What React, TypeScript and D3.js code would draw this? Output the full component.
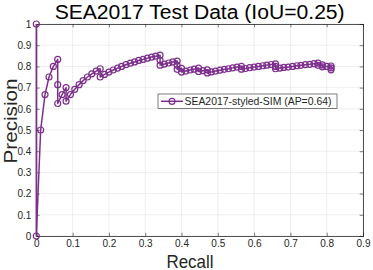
import * as d3 from 'd3';
import React, { useEffect, useRef } from 'react';

// PR curve
const recall = [
  0, 0, 0.012, 0.024, 0.035, 0.047, 0.059, 0.059, 0.059, 0.071, 0.082, 0.082, 0.094, 0.106,
  0.118, 0.129, 0.141, 0.153, 0.165, 0.176, 0.176, 0.188, 0.2, 0.212, 0.224, 0.235, 0.247,
  0.259, 0.271, 0.282, 0.294, 0.306, 0.318, 0.329, 0.341, 0.341, 0.341, 0.353, 0.365, 0.376,
  0.388, 0.388, 0.388, 0.4, 0.4, 0.412, 0.424, 0.435, 0.447, 0.447, 0.459, 0.471, 0.471,
  0.482, 0.494, 0.506, 0.518, 0.529, 0.541, 0.553, 0.565, 0.565, 0.576, 0.588, 0.6, 0.612,
  0.624, 0.635, 0.647, 0.659, 0.659, 0.659, 0.671, 0.682, 0.694, 0.706, 0.718, 0.729, 0.741,
  0.753, 0.765, 0.776, 0.776, 0.788, 0.788, 0.8, 0.812, 0.812, 0.812,
];
const precision = [
  1, 0, 0.5, 0.667, 0.75, 0.8, 0.833, 0.714, 0.625, 0.667, 0.7, 0.636, 0.667, 0.692,
  0.714, 0.733, 0.75, 0.765, 0.778, 0.789, 0.75, 0.762, 0.773, 0.783, 0.792, 0.8, 0.808,
  0.815, 0.821, 0.828, 0.833, 0.839, 0.844, 0.848, 0.853, 0.829, 0.806, 0.811, 0.816, 0.821,
  0.825, 0.805, 0.786, 0.791, 0.773, 0.778, 0.783, 0.787, 0.792, 0.776, 0.78, 0.784, 0.769,
  0.774, 0.778, 0.782, 0.786, 0.789, 0.793, 0.797, 0.8, 0.787, 0.79, 0.794, 0.797, 0.8,
  0.803, 0.806, 0.809, 0.812, 0.8, 0.789, 0.792, 0.795, 0.797, 0.8, 0.803, 0.805, 0.808,
  0.81, 0.813, 0.815, 0.805, 0.807, 0.798, 0.8, 0.802, 0.793, 0.784,
];
const xTicks = [0, 0.1, 0.2, 0.3, 0.4, 0.5, 0.6, 0.7, 0.8, 0.9];
const yTicks = [0, 0.1, 0.2, 0.3, 0.4, 0.5, 0.6, 0.7, 0.8, 0.9, 1];
const seriesName = 'SEA2017-styled-SIM (AP=0.64)';
const title = 'SEA2017 Test Data (IoU=0.25)';

const W = 373, H = 270;
const purple = '#7E2F8E';
const ink = '#262626';
const font = 'Liberation Sans, Arial, Helvetica, sans-serif';

const App = () => {
  const ref = useRef<SVGSVGElement>(null);

  useEffect(() => {
    if (!ref.current) return;
    const svg = d3.select(ref.current);
    svg.selectAll('*').remove();

    const left = 36.3, right = 363, top = 24, bottom = 236;
    const x = d3.scaleLinear().domain([0, 0.9]).range([left, right]);
    const y = d3.scaleLinear().domain([0, 1]).range([bottom, top]);

    svg.append('rect').attr('width', W).attr('height', H).attr('fill', '#fff');

    // grid
    const grid = svg.append('g').attr('stroke', '#e3e3e3').attr('stroke-width', 0.6);
    grid.selectAll('.gx').data(xTicks).join('line')
      .attr('x1', d => x(d)).attr('x2', d => x(d)).attr('y1', top).attr('y2', bottom);
    grid.selectAll('.gy').data(yTicks).join('line')
      .attr('y1', d => y(d)).attr('y2', d => y(d)).attr('x1', left).attr('x2', right);

    // axes with inward ticks on all four sides
    const tl = 3.3;
    svg.append('g').attr('transform', `translate(0,${bottom})`)
      .call(d3.axisBottom(x).tickValues(xTicks).tickSize(-tl).tickPadding(4).tickFormat(d3.format('~g')));
    svg.append('g').attr('transform', `translate(0,${top})`)
      .call(d3.axisTop(x).tickValues(xTicks).tickSize(-tl).tickFormat(() => ''));
    svg.append('g').attr('transform', `translate(${left},0)`)
      .call(d3.axisLeft(y).tickValues(yTicks).tickSize(-tl).tickPadding(5).tickFormat(d3.format('~g')));
    svg.append('g').attr('transform', `translate(${right},0)`)
      .call(d3.axisRight(y).tickValues(yTicks).tickSize(-tl).tickFormat(() => ''));
    svg.selectAll('.domain').attr('stroke', ink).attr('stroke-width', 0.8);
    svg.selectAll('.tick line').attr('stroke', ink).attr('stroke-width', 0.6);
    svg.selectAll('.tick text').attr('fill', ink).attr('font-family', font).attr('font-size', 10);

    // curve
    const pts = recall.map((r, i) => [r, precision[i]] as [number, number]);
    svg.append('path')
      .attr('d', d3.line().x(d => x(d[0])).y(d => y(d[1]))(pts))
      .attr('fill', 'none').attr('stroke', purple).attr('stroke-width', 1.5)
      .attr('stroke-linejoin', 'round');
    svg.append('g').selectAll('circle').data(pts).join('circle')
      .attr('cx', d => x(d[0])).attr('cy', d => y(d[1])).attr('r', 3)
      .attr('fill', 'none').attr('stroke', purple).attr('stroke-width', 1.2);

    // legend
    const lg = svg.append('g');
    lg.append('rect').attr('x', 158).attr('y', 94).attr('width', 179).attr('height', 14.5)
      .attr('fill', '#fff').attr('stroke', ink).attr('stroke-width', 0.6);
    lg.append('line').attr('x1', 161).attr('x2', 183).attr('y1', 101.3).attr('y2', 101.3)
      .attr('stroke', purple).attr('stroke-width', 1.5);
    lg.append('circle').attr('cx', 172).attr('cy', 101.3).attr('r', 3)
      .attr('fill', 'none').attr('stroke', purple).attr('stroke-width', 1.2);
    lg.append('text').attr('x', 184.5).attr('y', 105).attr('font-family', font).attr('font-size', 10.3)
      .attr('textLength', 147).attr('lengthAdjust', 'spacingAndGlyphs')
      .attr('fill', ink).text(seriesName);

    // titles
    svg.append('text').attr('x', (left + right) / 2).attr('y', 19).attr('text-anchor', 'middle')
      .attr('font-family', font).attr('font-size', 20).attr('fill', '#000')
      .attr('textLength', 290).attr('lengthAdjust', 'spacingAndGlyphs').text(title);
    svg.append('text').attr('x', 190).attr('y', 267.5).attr('text-anchor', 'middle')
      .attr('font-family', font).attr('font-size', 19).attr('fill', ink)
      .attr('textLength', 47).attr('lengthAdjust', 'spacingAndGlyphs').text('Recall');
    svg.append('text').attr('transform', `translate(16.5,121) rotate(-90)`).attr('text-anchor', 'middle')
      .attr('font-family', font).attr('font-size', 19).attr('fill', ink)
      .attr('textLength', 85).attr('lengthAdjust', 'spacingAndGlyphs').text('Precision');
  }, []);

  return (
    <div style={{ position: 'absolute', left: 0, top: 0 }}>
      <svg ref={ref} width={W} height={H} style={{ display: 'block' }} />
    </div>
  );
};

export default App;
